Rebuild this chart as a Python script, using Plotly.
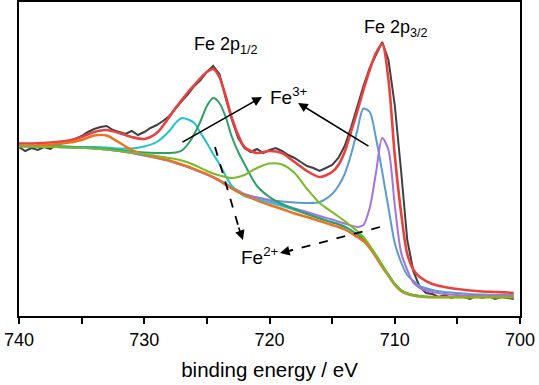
import plotly.graph_objects as go

# Binding energy grid of the fitted curves (eV)
energy_fit = [740, 739, 738, 737, 736, 735, 734, 733, 732, 731, 730, 729, 728,
              727.5, 727, 726.5, 726, 725.5, 725, 724.5, 724, 723.5, 723, 722.5, 722,
              721, 720, 719, 718, 717, 716, 715,
              714.5, 714, 713.5, 713, 712.5, 712, 711.5, 711, 710.5, 710, 709.5, 709, 708.5, 708,
              707, 706, 705, 704, 703, 702, 701, 700.5]

# Fitted components (a.u.)
sat_2p12 = [170, 170.5, 171, 172, 173.5, 176, 180.5, 180.5, 173.5, 166, 161.5, 158.5, 155.5,
            153.5, 151.5, 149.5, 147, 144.5, 142, 139, 135.5, 131.5, 127.5, 124, 121,
            115.5, 111, 107, 102.5, 99, 95, 91,
            89, 86.5, 83, 79, 75, 68, 59, 49, 40, 31, 25, 22, 20.5, 19.5,
            19, 19, 19, 19, 19, 19, 19, 19]
fe3_2p12 = [170, 170, 170, 170, 169.5, 169, 169, 168.5, 167.5, 167.5, 169.5, 174, 185,
            193, 198, 196.5, 193, 183, 173, 162, 152, 140, 130, 124, 120,
            116.5, 113.5, 110, 106, 102, 98, 94,
            92, 89.5, 86, 82, 77.5, 70, 61, 51, 41.5, 32, 26, 22.5, 21, 20,
            19, 19, 19, 19, 19, 19, 19, 19]
fe2_2p12 = [170, 170, 170, 169.5, 169, 168.5, 168, 167, 166, 164.5, 163.5, 163, 163,
            163.5, 165.5, 172, 182, 195, 210, 218, 213, 199, 179, 164, 152,
            130, 119, 112, 107, 102, 97.5, 93.5,
            91.5, 89, 85.5, 81.5, 77, 69.5, 60.5, 50.5, 41, 32, 26, 22.5, 21, 20,
            19, 19, 19, 19, 19, 19, 19, 19]
sat_2p32 = [169.5, 169.5, 169, 169, 168.5, 168, 167.5, 166.5, 165, 163.5, 162, 160, 158,
            157, 155.5, 153.5, 151, 148, 145, 142.5, 140.5, 139, 138, 139, 141,
            148, 152.5, 151.5, 143, 127, 113, 104,
            99.5, 95, 90, 85, 79, 70.5, 61, 51, 41, 32, 26, 22.5, 20.5, 19.5,
            18.5, 18.5, 18.5, 18.5, 18.5, 18.5, 18.5, 18.5]
fe3_2p32 = [169.5, 169.5, 169, 169, 168.5, 168, 167.5, 166.5, 165, 163, 160.5, 158, 155,
            153, 151, 149, 146.5, 144, 141.5, 139, 136, 132.5, 129, 125.5, 122,
            118.5, 116, 114.5, 113.5, 113, 114, 122,
            130, 142, 161, 185, 207.5, 204, 178, 144, 108, 73, 54, 41, 35, 30,
            26, 24, 23, 22, 21.5, 21, 21, 21]
fe2_2p32 = [169.5, 169.5, 169, 169, 168.5, 168, 167.5, 166.5, 165, 163, 160.5, 158, 155,
            153, 151, 149, 146.5, 144, 141.5, 138.5, 135, 131, 127.5, 124, 121,
            118.5, 115.5, 111.5, 107.5, 104, 100, 96.5,
            94.5, 92.5, 90.5, 89, 91, 108, 143, 178, 166, 111, 64, 46, 33, 28,
            24, 22, 21, 20.5, 20, 20, 20, 20]
envelope = [172.5, 172.5, 173, 174, 175.5, 179, 184, 186, 183, 179, 177, 183, 199,
            208, 216, 224, 231, 238, 244, 247, 239, 220, 198, 181, 169,
            163, 165, 163, 154, 145, 139, 144,
            151, 164, 184, 204, 226, 246, 263, 272, 236, 161, 104, 62, 46, 39,
            32, 29, 27, 25.5, 24.5, 24, 23.5, 23]

# Measured spectrum
energy_raw = [740, 739.5, 739, 738.5, 738, 737.5, 737, 736.5, 736, 735.5,
              735, 734.5, 734, 733.5, 733, 732.5, 732, 731.5, 731, 730.5,
              730, 729.5, 729, 728.5, 728, 727.5, 727, 726.5, 726, 725.5,
              725, 724.5, 724, 723.5, 723, 722.5, 722, 721.5, 721, 720.5,
              720, 719.5, 719, 718.5, 718, 717.5, 717, 716.5, 716, 715.5,
              715, 714.5, 714, 713.5, 713, 712.5, 712, 711.5, 711, 710.5,
              710, 709.5, 709, 708.5, 708, 707.5, 707, 706.5, 706, 705.5,
              705, 704.5, 704, 703.5, 703, 702.5, 702, 701.5, 701, 700.5]
intensity_raw = [169, 165, 168, 166, 169, 167, 171, 173, 175, 177,
                 180, 184, 187, 189, 190, 186, 184, 182, 185, 181,
                 184, 188, 191, 195, 200, 208, 215, 222, 230, 236,
                 244, 250, 242, 218, 196, 178, 168, 164, 167, 163,
                 166, 168, 165, 161, 158, 154, 150, 148, 145, 148,
                 151, 158, 170, 188, 210, 230, 248, 261, 274, 256,
                 211, 146, 76, 44, 29, 23, 22, 19, 21, 18,
                 20, 19, 17, 20, 18, 20, 17, 19, 18, 17]

xtick_vals = [740, 730, 720, 710, 700]
xtick_text = ["740", "730", "720", "710", "700"]

FONT = "Liberation Sans, Arial, sans-serif"

fig = go.Figure()
fig.add_trace(go.Scatter(x=energy_raw, y=intensity_raw, mode="lines",
                         line=dict(color="#404040", width=2)))
comp = [
    (envelope, "#e8413f", 2.6),
    (fe3_2p32, "#5b9bd2", 2),
    (fe2_2p32, "#a672dc", 2),
    (fe3_2p12, "#22c4cf", 2),
    (fe2_2p12, "#2f9e68", 2),
    (sat_2p12, "#f0701e", 2.4),
    (sat_2p32, "#7ab928", 2),
]
for ys, col, w in comp:
    fig.add_trace(go.Scatter(x=energy_fit, y=ys, mode="lines",
                             line=dict(color=col, width=w, shape="spline", smoothing=0.8)))

ann = [
    dict(x=726.2, y=271, text="Fe 2p<sub>1/2</sub>", xanchor="left", yanchor="middle", showarrow=False,
         font=dict(size=18)),
    dict(x=712.6, y=288, text="Fe 2p<sub>3/2</sub>", xanchor="left", yanchor="middle", showarrow=False,
         font=dict(size=18)),
    dict(x=720.1, y=220, text="Fe<sup>3+</sup>", xanchor="left", yanchor="middle", showarrow=False,
         font=dict(size=19)),
    dict(x=722.4, y=60, text="Fe<sup>2+</sup>", xanchor="left", yanchor="middle", showarrow=False,
         font=dict(size=19)),
    # solid arrows to Fe3+
    dict(x=720.6, y=219, ax=727.07, ay=173, axref="x", ayref="y", xref="x", yref="y",
         text="", showarrow=True, arrowhead=2, arrowsize=1.2, arrowwidth=1.6, arrowcolor="black"),
    dict(x=717.72, y=213, ax=711.98, ay=169, axref="x", ayref="y", xref="x", yref="y",
         text="", showarrow=True, arrowhead=2, arrowsize=1.2, arrowwidth=1.6, arrowcolor="black"),
    # heads of dashed arrows to Fe2+
    dict(x=722.12, y=76, ax=722.5, ay=90, axref="x", ayref="y", xref="x", yref="y",
         text="", showarrow=True, arrowhead=2, arrowsize=1.2, arrowwidth=1.6, arrowcolor="black"),
    dict(x=719.16, y=63, ax=718.0, ay=66.5, axref="x", ayref="y", xref="x", yref="y",
         text="", showarrow=True, arrowhead=2, arrowsize=1.2, arrowwidth=1.6, arrowcolor="black"),
]
shapes = [
    dict(type="line", xref="x", yref="y", x0=724.35, y0=169, x1=722.3, y1=82,
         line=dict(color="black", width=1.8, dash="dash")),
    dict(type="line", xref="x", yref="y", x0=711.18, y0=89, x1=718.6, y1=64.5,
         line=dict(color="black", width=1.8, dash="dash")),
]

fig.update_layout(
    width=539, height=385,
    margin=dict(l=19, r=19, t=2, b=69),
    paper_bgcolor="white", plot_bgcolor="white",
    showlegend=False,
    font=dict(family=FONT, color="black"),
    annotations=ann, shapes=shapes,
)
fig.update_xaxes(
    automargin=False,
    range=[740, 700], tickmode="array", tickvals=xtick_vals, ticktext=xtick_text,
    ticks="outside", ticklen=6, tickwidth=1.5, tickcolor="black",
    showline=True, linecolor="black", linewidth=2, mirror=True,
    showgrid=False, zeroline=False, tickfont=dict(size=18),
    minor=dict(tickmode="array", tickvals=[735, 725, 715, 705], ticks="outside",
               ticklen=6, tickwidth=1.5, tickcolor="black", showgrid=False),
    title=dict(text="binding energy / eV", font=dict(size=20.5), standoff=14),
)
fig.update_yaxes(
    automargin=False,
    range=[0, 314], showticklabels=False, ticks="",
    showline=True, linecolor="black", linewidth=2, mirror=True,
    showgrid=False, zeroline=False,
)
fig.write_html("out.html",
               config={"displayModeBar": False},
               post_script="document.body.style.margin='0';document.body.style.overflow='hidden';")
